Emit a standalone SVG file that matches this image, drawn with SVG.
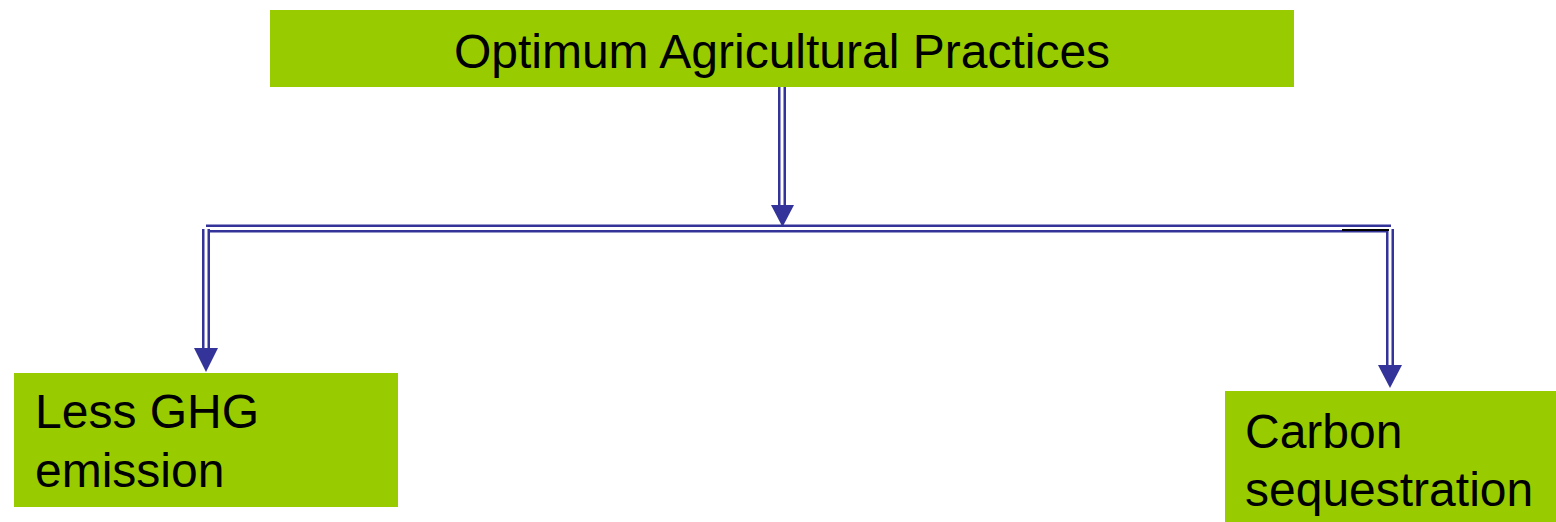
<svg xmlns="http://www.w3.org/2000/svg" width="1556" height="522" viewBox="0 0 1556 522">
<style>
.box{fill:#99cc00}
.lbl{font-family:"Liberation Sans",Arial,sans-serif;font-size:48px;fill:#000}
.outer{fill:none;stroke:#333399;stroke-width:8}
.inner{fill:none;stroke:#ffffff;stroke-width:3}
.head{fill:#333399}
</style>
<rect width="1556" height="522" fill="#ffffff"/>
<g id="connectors">
  <path class="outer" d="M782,87 V207"/>
  <path class="inner" d="M782,87 V207"/>
  <path class="outer" d="M206,228.5 H1391"/>
  <path class="inner" d="M206,228.5 H1391"/>
  <path class="outer" d="M206,229 V350"/>
  <path class="inner" d="M206,229 V350"/>
  <path class="outer" d="M1390,229 V367"/>
  <path class="inner" d="M1390,229 V367"/>
  <line x1="1342" y1="230" x2="1389" y2="230" stroke="#000" stroke-width="2"/>
  <polygon class="head" points="771,205 794,205 782.5,227"/>
  <polygon class="head" points="194,348 218,348 206,372"/>
  <polygon class="head" points="1378,365 1402,365 1390,388"/>
</g>
<g id="node-top">
  <rect class="box" x="270" y="10" width="1024" height="77"/>
  <text class="lbl" x="782" y="68" text-anchor="middle">Optimum Agricultural Practices</text>
</g>
<g id="node-left">
  <rect class="box" x="14" y="373" width="384" height="134"/>
  <text class="lbl" x="35" y="428">Less GHG</text>
  <text class="lbl" x="35" y="487">emission</text>
</g>
<g id="node-right">
  <rect class="box" x="1225" y="391" width="331" height="131"/>
  <text class="lbl" x="1245" y="448">Carbon</text>
  <text class="lbl" x="1245" y="506">sequestration</text>
</g>
</svg>
